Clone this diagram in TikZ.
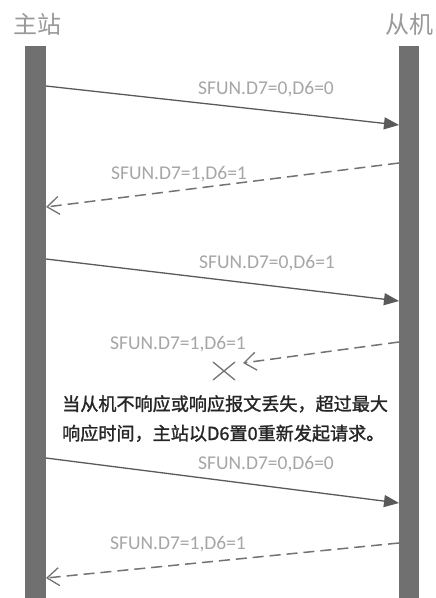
\documentclass[tikz,border=0pt]{standalone}
\usepackage{fontspec}
\setmainfont{Carlito}
\newfontfamily\cjk{Noto Sans CJK SC}
\newfontfamily\cjkb{Noto Sans CJK SC}[FakeBold=1.4]
\usetikzlibrary{arrows.meta}
\definecolor{bargray}{HTML}{707070}
\definecolor{linegray}{HTML}{5A5A5A}
\definecolor{labgray}{HTML}{A6A6A6}
\definecolor{headgray}{HTML}{9A9A9A}
\tikzset{
  bar/.style={fill=bargray, draw=none, minimum width=21pt, inner sep=0pt},
  req/.style={draw=linegray, line width=1.3pt, -{Triangle[length=15pt,width=12pt]}},
  rsp/.style={draw=linegray!85, line width=1.5pt, dash pattern=on 11pt off 6pt, -{Straight Barb[length=12pt,width=18pt,line width=1.3pt]}},
  lab/.style={text=labgray, font=\fontsize{19.5}{22}\selectfont, inner sep=0pt},
  head/.style={text=headgray, font=\cjk\fontsize{24}{26}\selectfont, inner sep=0pt},
  note/.style={text=black!85, font=\cjkb\fontsize{18.1}{29.5}\selectfont, inner sep=0pt, align=left, anchor=north west}
}
\begin{document}
\begin{tikzpicture}[x=1pt,y=-1pt]
\useasboundingbox[fill=white] (0,0) rectangle (436,598);
% lifelines
\fill[bargray] (25,46) rectangle (46,598);
\fill[bargray] (399,46) rectangle (419,598);
\node[head] (hm) at (37,24) {主站};
\node[head] (hs) at (409,24) {从机};
% connector end points on the bars
\coordinate (l1) at (46,86);   \coordinate (r1) at (399,125);
\coordinate (r2) at (399,163); \coordinate (l2) at (46,207);
\coordinate (l3) at (46,259);  \coordinate (r3) at (399,301);
\coordinate (r4) at (399,342); \coordinate (x4) at (243,363);
\coordinate (l5) at (46,458);  \coordinate (r5) at (399,503);
\coordinate (r6) at (399,543); \coordinate (l6) at (46,578);
% messages
\draw[req] (l1) -- (r1);
\node[lab] (t1) at (266,89) {SFUN.D7=0,D6=0};
\draw[rsp] (r2) -- (l2);
\node[lab] (t2) at (179,174) {SFUN.D7=1,D6=1};
\draw[req] (l3) -- (r3);
\node[lab] (t3) at (267,263) {SFUN.D7=0,D6=1};
\draw[rsp] (r4) -- (x4);
\node[lab] (t4) at (178,344) {SFUN.D7=1,D6=1};
\draw[linegray!85, line width=1.3pt] (213,362) -- (235,380) (235,362) -- (213,380);
\node[note] (nt) at (62,395) {当从机不响应或响应报文丢失，超过最大\\响应时间，主站以D6置0重新发起请求。};
\draw[req] (l5) -- (r5);
\node[lab] (t5) at (266,464) {SFUN.D7=0,D6=0};
\draw[rsp] (r6) -- (l6);
\node[lab] (t6) at (178,544) {SFUN.D7=1,D6=1};
\end{tikzpicture}
\end{document}
